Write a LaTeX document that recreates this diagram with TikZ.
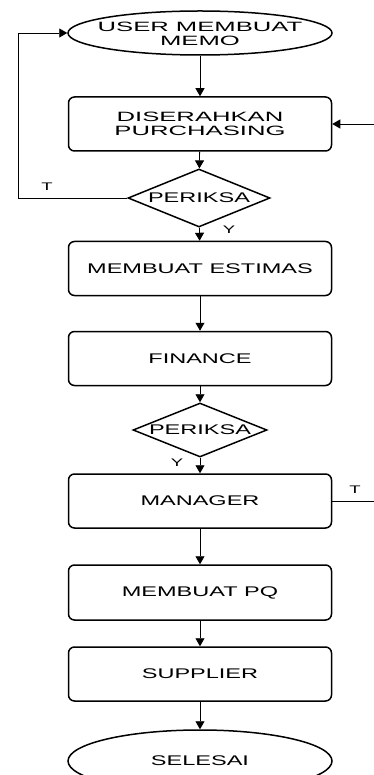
\documentclass[tikz,border=0pt]{standalone}
\usepackage{fontspec}
\newfontfamily\flow[FakeStretch=1.68]{Liberation Sans}
\newfontfamily\flowb[FakeStretch=1.9]{Liberation Sans}
\usetikzlibrary{shapes.geometric,arrows.meta}
\begin{document}
\begin{tikzpicture}[x=1pt,y=-1pt,
  box/.style={draw,line width=1.5pt,rounded corners=6pt,minimum width=263pt,minimum height=54pt,inner sep=0pt},
  oval/.style={draw,line width=1.5pt,ellipse,minimum width=264pt,inner sep=0pt},
  dmd/.style={draw,line width=1.5pt,diamond,inner sep=0pt},
  txt/.style={font=\flow\fontsize{14}{14}\selectfont,align=center,inner sep=0pt},
  txtb/.style={font=\flowb\fontsize{13.5}{14}\selectfont,align=center,inner sep=0pt},
  lab/.style={font=\flow\fontsize{11}{11}\selectfont,inner sep=0pt},
  conn/.style={line width=0.8pt,-{Triangle[width=9pt,length=8pt]}}]
\useasboundingbox (0,0) rectangle (374,775);
% nodes
\node[oval,minimum height=44pt] (e1) at (200,33) {};
\node[txtb] (e1t) at (200,34) {USER MEMBUAT\\MEMO};
\node[box] (b1) at (200,124) {};
\node[txtb] (b1t) at (200,124) {DISERAHKAN\\PURCHASING};
\node[dmd,minimum width=142pt,minimum height=58pt] (d1) at (199,198) {};
\node[txt] (d1t) at (199,198) {PERIKSA};
\node[box] (b2) at (200,268.5) {};
\node[txt] (b2t) at (200,268.5) {MEMBUAT ESTIMAS};
\node[box] (b3) at (200,358.5) {};
\node[txt] (b3t) at (200,358.5) {FINANCE};
\node[dmd,minimum width=134pt,minimum height=54pt] (d2) at (200,430) {};
\node[txt] (d2t) at (200,430) {PERIKSA};
\node[box] (b4) at (200,501) {};
\node[txt] (b4t) at (200,501) {MANAGER};
\node[box,minimum height=55pt] (b5) at (200,592.5) {};
\node[txt] (b5t) at (200,592.5) {MEMBUAT PQ};
\node[box] (b6) at (200,674) {};
\node[txt] (b6t) at (200,674) {SUPPLIER};
\node[oval,minimum height=62pt] (e2) at (200,761) {};
\node[txt] (e2t) at (200,761) {SELESAI};
% connectors
\draw[conn] (e1) -- (b1);
\draw[conn] (b1) -- (d1);
\draw[conn] (d1) -- (b2);
\draw[conn] (b2) -- (b3);
\draw[conn] (b3) -- (d2);
\draw[conn] (d2) -- (b4);
\draw[conn] (b4) -- (b5);
\draw[conn] (b5) -- (b6);
\draw[conn] (b6) -- (e2);
% loops
\coordinate (ll) at (18,198);
\coordinate (lu) at (18,33);
\draw[conn] (d1.west) -- (ll) -- (lu) -- (e1.west);
\coordinate (rr) at (385,501);
\coordinate (ru) at (385,124);
\draw[conn] (b4.east) -- (rr) -- (ru) -- (b1.east);
% labels
\node[lab] (t1) at (47,187) {T};
\node[lab] (y1) at (229,230) {Y};
\node[lab] (y2) at (177,463) {Y};
\node[lab] (t2) at (355,490) {T};
\end{tikzpicture}
\end{document}
